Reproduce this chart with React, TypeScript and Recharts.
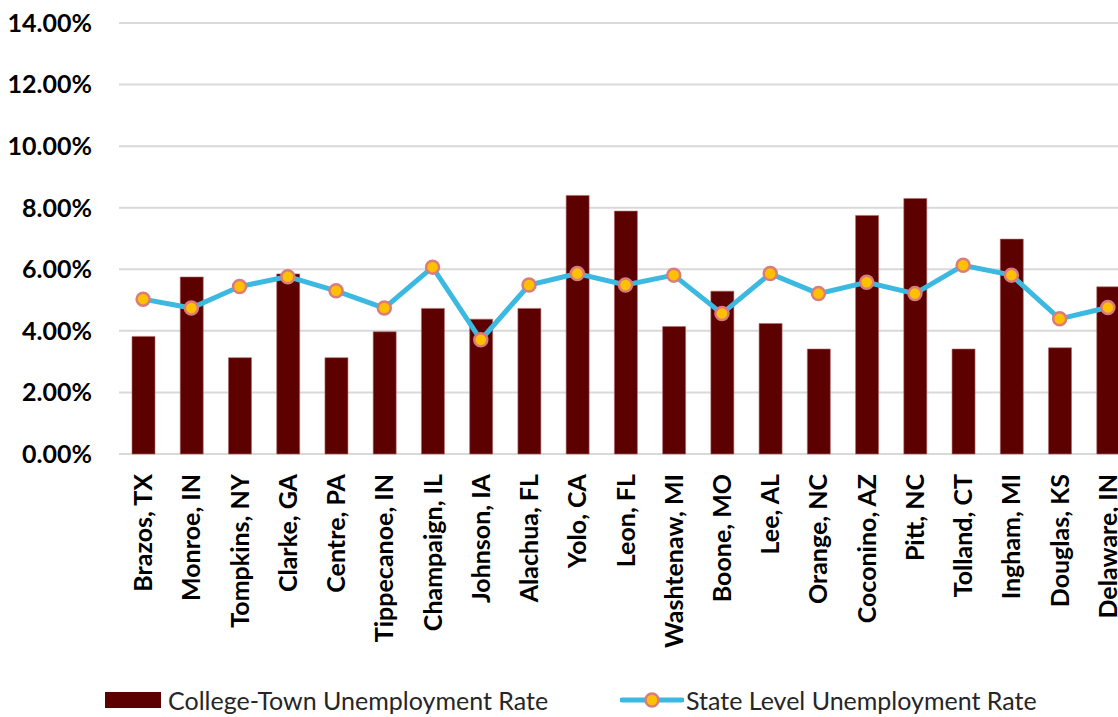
import React from "react";
import { ComposedChart, Bar, Line, XAxis, YAxis, CartesianGrid, Legend } from "recharts";

const categories = [
  "Brazos, TX", "Monroe, IN", "Tompkins, NY", "Clarke, GA", "Centre, PA", "Tippecanoe, IN",
  "Champaign, IL", "Johnson, IA", "Alachua, FL", "Yolo, CA", "Leon, FL", "Washtenaw, MI",
  "Boone, MO", "Lee, AL", "Orange, NC", "Coconino, AZ", "Pitt, NC", "Tolland, CT",
  "Ingham, MI", "Douglas, KS", "Delaware, IN",
];

const collegeTownRate = [
  3.82, 5.75, 3.13, 5.85, 3.13, 3.97, 4.73, 4.38, 4.73, 8.40, 7.89, 4.14,
  5.29, 4.24, 3.41, 7.75, 8.30, 3.41, 6.98, 3.45, 5.43,
];

const stateRate = [
  5.03, 4.74, 5.44, 5.76, 5.30, 4.74, 6.07, 3.71, 5.49, 5.86, 5.49, 5.81,
  4.56, 5.86, 5.21, 5.58, 5.21, 6.13, 5.81, 4.39, 4.76,
];

const yTicks = [0, 2, 4, 6, 8, 10, 12, 14];

const seriesNames = ["College-Town Unemployment Rate", "State Level Unemployment Rate"];

const data = categories.map((name, i) => ({
  name,
  college: collegeTownRate[i],
  state: stateRate[i],
}));

const FONT = "Lato, 'Noto Sans', sans-serif";
const BAR_COLOR = "#5C0000";
const LINE_COLOR = "#3BB9E1";
const DOT_FILL = "#FFC000";
const DOT_STROKE = "#DB7C7C";

const XTick = (props: any) => {
  const { x, y, payload } = props;
  return (
    <text
      x={x}
      y={y}
      dy="0.36em"
      transform={`rotate(-90, ${x}, ${y})`}
      textAnchor="end"
      fontFamily={FONT}
      fontWeight="bold"
      fontSize={25}
      fill="#000"
    >
      {payload.value}
    </text>
  );
};

const LegendContent = () => (
  <div style={{ position: "relative", height: 34, fontFamily: FONT, fontSize: 25, color: "#262626" }}>
    <div style={{ position: "absolute", left: 105, top: 9, width: 56, height: 16, background: BAR_COLOR }} />
    <div style={{ position: "absolute", left: 168, top: 0, lineHeight: "34px", whiteSpace: "nowrap" }}>
      {seriesNames[0]}
    </div>
    <svg style={{ position: "absolute", left: 620, top: 7 }} width={64} height={20}>
      <line x1={2} y1={10} x2={62} y2={10} stroke={LINE_COLOR} strokeWidth={5} strokeLinecap="round" />
      <circle cx={32} cy={10} r={6.5} fill={DOT_FILL} stroke={DOT_STROKE} strokeWidth={2.5} />
    </svg>
    <div style={{ position: "absolute", left: 686, top: 0, lineHeight: "34px", whiteSpace: "nowrap" }}>
      {seriesNames[1]}
    </div>
  </div>
);

export default function App() {
  return (
    <div
      style={{
        position: "fixed",
        left: 0,
        top: 0,
        width: 1118,
        height: 717,
        overflow: "hidden",
        background: "#fff",
      }}
    >
      <ComposedChart
        width={1132}
        height={717}
        data={data}
        margin={{ top: 23, right: 0, left: 0, bottom: 112 }}
      >
        <CartesianGrid vertical={false} stroke="#D9D9D9" strokeWidth={2} />
        <XAxis
          dataKey="name"
          interval={0}
          axisLine={false}
          tickLine={false}
          tickSize={0}
          tickMargin={20}
          height={117}
          tick={<XTick />}
        />
        <YAxis
          width={119}
          domain={[0, 14]}
          ticks={yTicks}
          axisLine={false}
          tickLine={false}
          tickSize={0}
          tickMargin={27}
          tickFormatter={(v: number) => `${v.toFixed(2)}%`}
          tick={{ fontFamily: FONT, fontWeight: "bold", fontSize: 25, fill: "#000" }}
        />
        <Legend
          verticalAlign="bottom"
          wrapperStyle={{ height: 34, top: 683, bottom: "auto", left: 0, lineHeight: "normal" }}
          content={<LegendContent />}
        />
        <Bar
          dataKey="college"
          name={seriesNames[0]}
          fill={BAR_COLOR}
          stroke="#B06A6A"
          strokeWidth={0.6}
          barSize={23}
          isAnimationActive={false}
        />
        <Line
          dataKey="state"
          name={seriesNames[1]}
          stroke={LINE_COLOR}
          strokeWidth={5}
          dot={{ r: 6.5, fill: DOT_FILL, stroke: DOT_STROKE, strokeWidth: 2.5 }}
          activeDot={false}
          isAnimationActive={false}
        />
      </ComposedChart>
    </div>
  );
}
